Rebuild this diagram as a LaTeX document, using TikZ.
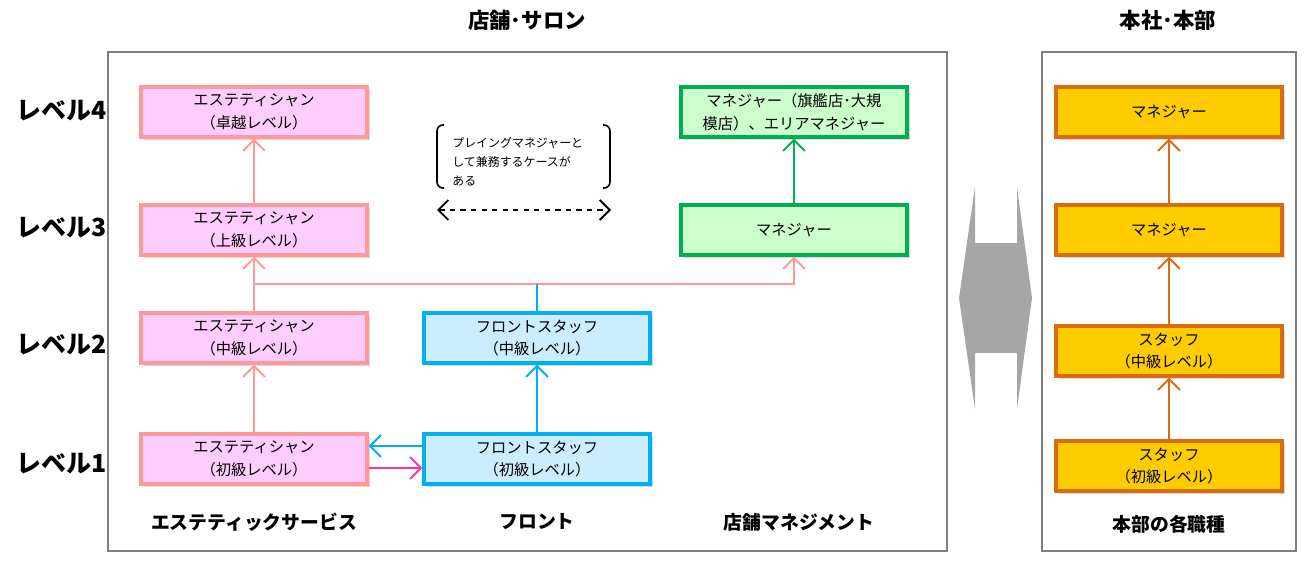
\documentclass[tikz,border=0pt]{standalone}
\usepackage{fontspec}
\setmainfont{Noto Sans CJK JP}
\usetikzlibrary{arrows.meta,shadows}
\definecolor{pinkfill}{HTML}{FFCCFF}
\definecolor{pinkline}{HTML}{FF9999}
\definecolor{bluefill}{HTML}{CCECFF}
\definecolor{blueline}{HTML}{00B0F0}
\definecolor{greenfill}{HTML}{CCFFCC}
\definecolor{greenline}{HTML}{00B050}
\definecolor{orfill}{HTML}{FFCC00}
\definecolor{orline}{HTML}{D86B0C}
\definecolor{magline}{HTML}{FF3399}
\definecolor{framegray}{HTML}{7F7F7F}
\definecolor{shapegray}{HTML}{A6A6A6}
\begin{document}
\begin{tikzpicture}[x=0.02cm,y=-0.02cm,
  box/.style={draw, line width=1.8pt, minimum width=4.52cm, minimum height=1.0cm,
    inner sep=0pt, align=center, font=\fontsize{8.7}{13}\selectfont,
    drop shadow={shadow xshift=0.06cm, shadow yshift=-0.06cm, opacity=0.3}},
  pinkbox/.style={box, fill=pinkfill, draw=pinkline},
  bluebox/.style={box, fill=bluefill, draw=blueline},
  greenbox/.style={box, fill=greenfill, draw=greenline},
  orbox/.style={box, fill=orfill, draw=orline},
  tip/.style={-{Straight Barb[length=2.2mm,width=4.4mm,line width=1.1pt]}},
  parr/.style={tip, draw=pinkline, line width=1.1pt},
  barr/.style={tip, draw=blueline, line width=1.1pt},
  garr/.style={tip, draw=greenline, line width=1.1pt},
  oarr/.style={tip, draw=orline, line width=1.1pt},
  marr/.style={tip, draw=magline, line width=1.1pt},
  frame/.style={draw=framegray, line width=0.9pt},
  title/.style={font=\bfseries\fontsize{12.2}{14}\selectfont},
  lvl/.style={font=\bfseries\fontsize{14.2}{16}\selectfont},
  coltitle/.style={font=\bfseries\fontsize{10.7}{13}\selectfont},
  note/.style={font=\fontsize{6.8}{10.8}\selectfont, align=left, inner sep=0pt}
]
\useasboundingbox (0,0) rectangle (1313,561);

% frames
\draw[frame] (108,52) rectangle (947,551);
\draw[frame] (1042,52) rectangle (1296,551);

% titles
\node[title] (tsalon) at (527,20) {店舗･サロン};
\node[title] (thq) at (1168,20) {本社･本部};

% level labels
\node[lvl] (l4) at (62,111) {レベル4};
\node[lvl] (l3) at (62,228) {レベル3};
\node[lvl] (l2) at (62,345) {レベル2};
\node[lvl] (l1) at (62,464) {レベル1};

% pink column
\node[pinkbox] (p4) at (254,112) {エステティシャン\\（卓越レベル）};
\node[pinkbox] (p3) at (254,230) {エステティシャン\\（上級レベル）};
\node[pinkbox] (p2) at (254,338) {エステティシャン\\（中級レベル）};
\node[pinkbox] (p1) at (254,459) {エステティシャン\\（初級レベル）};

% blue column
\node[bluebox] (b2) at (537,338) {フロントスタッフ\\（中級レベル）};
\node[bluebox] (b1) at (537,459) {フロントスタッフ\\（初級レベル）};

% green column
\node[greenbox] (g4) at (794,112) {マネジャー（旗艦店･大規\\模店）、エリアマネジャー};
\node[greenbox] (g3) at (794,230) {マネジャー};

% orange column
\node[orbox] (o4) at (1169,112) {マネジャー};
\node[orbox] (o3) at (1169,230) {マネジャー};
\node[orbox] (o2) at (1169,351) {スタッフ\\（中級レベル）};
\node[orbox] (o1) at (1169,466) {スタッフ\\（初級レベル）};

% column titles
\node[coltitle] (c1) at (254,522) {エステティックサービス};
\node[coltitle] (c2) at (537,522) {フロント};
\node[coltitle] (c3) at (799,522) {店舗マネジメント};
\node[coltitle] (c4) at (1169,524) {本部の各職種};

% pink arrows
\draw[parr] (p1) -- (p2);
\draw[parr] (p2) -- (p3);
\draw[parr] (p3) -- (p4);
\coordinate (j1) at (254,284);
\draw[parr] (j1) -| (g3.south);
\draw[draw=blueline, line width=1.1pt] (b2.north) -- (b2.north |- j1);

% blue arrows
\draw[barr] (b1) -- (b2);
\draw[barr] ([yshift=0.26cm]b1.west) -- ([yshift=0.26cm]p1.east);
\draw[marr] ([yshift=-0.18cm]p1.east) -- ([yshift=-0.18cm]b1.west);

% green arrow
\draw[garr] (g3) -- (g4);

% orange arrows
\draw[oarr] (o1) -- (o2);
\draw[oarr] (o2) -- (o3);
\draw[oarr] (o3) -- (o4);

% note with brackets
\node[note, anchor=west] (nt) at (452,162) {プレイングマネジャーと\\して兼務するケースが\\ある};
\draw[line width=0.9pt, rounded corners=0.12cm] (444,125) -- (437,125) -- (437,188) -- (444,188);
\draw[line width=0.9pt, rounded corners=0.12cm] (603,125) -- (610,125) -- (610,188) -- (603,188);
\coordinate (da) at (437,210);
\coordinate (db) at (611,210);
\draw[line width=1.1pt, dashed, {Straight Barb[length=2mm,width=4mm]}-{Straight Barb[length=2mm,width=4mm]}] (da) -- (db);

% gray double arrow
\fill[shapegray] (975,187) -- (975,243) -- (1017,243) -- (1017,187) -- (1032,298) -- (1017,409) -- (1017,353) -- (975,353) -- (975,409) -- (959,298) -- cycle;
\end{tikzpicture}
\end{document}
